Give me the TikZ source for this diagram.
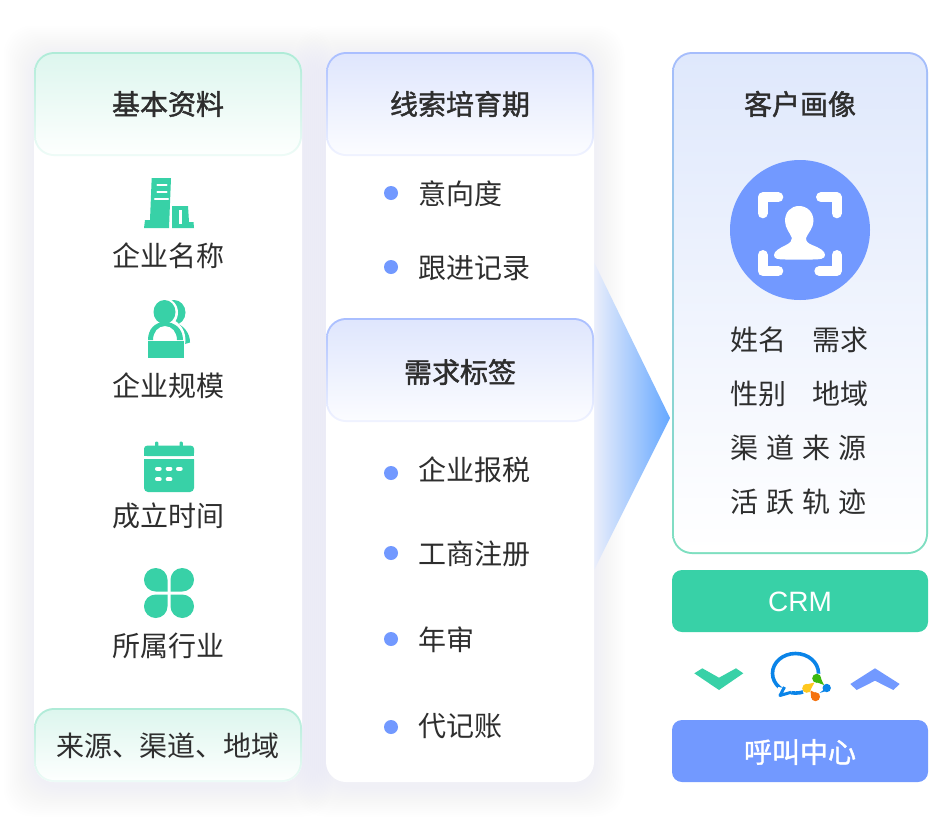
\documentclass[tikz,border=0pt]{standalone}
\usepackage{fontspec}
\setmainfont{Noto Sans CJK SC}
\newfontfamily\cjkm[FakeBold=1.5]{Noto Sans CJK SC}
\newfontfamily\latinf{Liberation Sans}
\definecolor{ink}{HTML}{2E2E2E}
\definecolor{teal}{HTML}{38D1A7}
\definecolor{blu}{HTML}{7299FF}
\definecolor{shadowc}{HTML}{E9EBF6}
\definecolor{wedgeL}{HTML}{EAEEFB}
\definecolor{wedgeR}{HTML}{66A8FF}
\definecolor{edgeG}{HTML}{AEEBD7}
\definecolor{edgeGb}{HTML}{EEFBF7}
\definecolor{fillG}{HTML}{DDF6EE}
\definecolor{fillGb}{HTML}{FDFFFE}
\definecolor{edgeB}{HTML}{A9BEFF}
\definecolor{edgeBb}{HTML}{F0F3FF}
\definecolor{fillB}{HTML}{DFE6FD}
\definecolor{fillBb}{HTML}{FBFCFF}
\definecolor{edgeR}{HTML}{A6BDFC}
\definecolor{edgeRb}{HTML}{7EDFC0}
\definecolor{fillR}{HTML}{DFE8FC}
\definecolor{bubbleblue}{HTML}{0A84E8}
\definecolor{logogreen}{HTML}{3DB80E}
\definecolor{logoorange}{HTML}{F5720F}
\definecolor{logoyellow}{HTML}{FFC81E}
\newcommand{\fsz}{\fontsize{28}{30}\selectfont}
\newcommand{\softshadow}[4]{%
  \foreach \e in {2,4,...,30}{
    \fill[shadowc,opacity=.03,rounded corners=28pt]
      ({#1-\e},{#2-\e+4}) rectangle ({#3+\e},{#4+\e+4});
  }}
\tikzset{
  x=1pt,y=-1pt,
  box/.style={inner sep=0pt,outer sep=0pt,rounded corners=20pt,minimum width=#1},
  label/.style={font=\fsz,text=ink,inner sep=0pt},
  title/.style={font=\fsz\cjkm,text=ink,inner sep=0pt},
  bullet/.style={circle,fill=blu,minimum size=14pt,inner sep=0pt,outer sep=0pt},
  listitem/.style={label,anchor=west},
  corner/.style={white,line width=10pt,line cap=round,line join=round},
}
\begin{document}
\begin{tikzpicture}
\useasboundingbox (0,0) rectangle (948,836);
\fill[white] (0,0) rectangle (948,836);
% soft shadows
\softshadow{34}{52}{302}{782}
\softshadow{326}{52}{594}{782}
% arrow wedge
\shade[left color=wedgeL,right color=wedgeR] (594,262) -- (670,418) -- (594,570) -- cycle;
% left column
\node[box=268pt,minimum height=730pt,fill=white] (leftcard) at (168,417) {};
\node[box=268pt,minimum height=104pt,top color=edgeG,bottom color=edgeGb] (lefthead) at (168,104) {};
\node[box=264pt,minimum height=100pt,rounded corners=18pt,top color=fillG,bottom color=fillGb] (leftheadin) at (168,104) {};
\node[title] (t1) at (168,104) {基本资料};
\node[box=268pt,minimum height=74pt,top color=edgeG,bottom color=edgeGb] (leftfoot) at (168,745) {};
\node[box=264pt,minimum height=70pt,rounded corners=18pt,top color=fillG,bottom color=fillGb] (leftfootin) at (168,745) {};
\node[label] (t6) at (168,746) {来源、渠道、地域};
\node[label] (t2) at (168,256) {企业名称};
\node[label] (t3) at (168,386) {企业规模};
\node[label] (t4) at (168,516) {成立时间};
\node[label] (t5) at (168,646) {所属行业};
% building icon
\fill[teal] (151.7,178) -- (171,178) -- (169,228) -- (144,228) -- (145,220) -- (150,220) -- cycle;
\fill[teal] (172,206) -- (188,206) -- (189,222) -- (193.5,222) -- (194,228) -- (172,228) -- cycle;
\fill[white] (179.4,210) rectangle (182.4,223.5);
\draw[white,line width=2.4pt,line cap=round] (157.5,185) -- (166.5,185) (157.5,192) -- (166.5,192) (155,199) -- (168,199);
% people icon
\fill[teal] (174,312.5) ellipse (11.5 and 12.5);
\fill[white] (164.5,312.5) ellipse (13.5 and 14.5);
\fill[teal] (172,321) .. controls (184,325) and (190,333) .. (190,342.5) -- (185,344) .. controls (185,335) and (181,326) .. (174,322) -- cycle;
\fill[white] (165,340) ellipse (20.5 and 22);
\fill[teal] (164.5,312) ellipse (11 and 12);
\fill[teal] (148,340) .. controls (148,329) and (155,322) .. (165,322) .. controls (175,322) and (183,329) .. (183,340) -- (177,340) .. controls (177,332) and (172,326) .. (165,326) .. controls (158,326) and (153,332) .. (153,340) -- cycle;
\fill[teal] (148,341) rectangle (184,358);
% calendar icon
\fill[teal,rounded corners=1.2pt] (155,441.5) rectangle (158.3,448);
\fill[teal,rounded corners=1.2pt] (179.5,441.5) rectangle (182.8,448);
\fill[teal,rounded corners=3pt] (144,445.7) rectangle (194,456);
\fill[teal] (144,452) rectangle (194,456);
\fill[teal,rounded corners=4pt] (144,470) -- (144,459.3) [sharp corners] -- (194,459.3) [rounded corners=4pt] -- (194,492) -- (144,492) -- cycle;
\fill[teal] (144,459.3) rectangle (194,465);
\draw[white,line width=4pt,line cap=round]
  (157,468.7) -- (159.7,468.7) (167.7,468.7) -- (170.4,468.7) (178,468.7) -- (180.7,468.7)
  (157,479.3) -- (159.7,479.3) (167.7,479.3) -- (170.4,479.3);
% clover icon
\fill[teal,rounded corners=11.7pt] (167.5,580) -- (167.5,568) -- (144,568) -- (144,591.5) [sharp corners] -- (167.5,591.5) -- cycle;
\fill[teal,rounded corners=11.7pt] (170.5,580) -- (170.5,568) -- (194,568) -- (194,591.5) [sharp corners] -- (170.5,591.5) -- cycle;
\fill[teal,rounded corners=11.7pt] (167.5,606) -- (167.5,618) -- (144,618) -- (144,594.5) [sharp corners] -- (167.5,594.5) -- cycle;
\fill[teal,rounded corners=11.7pt] (170.5,606) -- (170.5,618) -- (194,618) -- (194,594.5) [sharp corners] -- (170.5,594.5) -- cycle;
% middle column
\node[box=268pt,minimum height=730pt,fill=white] (midcard) at (460,417) {};
\node[box=268pt,minimum height=104pt,top color=edgeB,bottom color=edgeBb] (midhead) at (460,104) {};
\node[box=264pt,minimum height=100pt,rounded corners=18pt,top color=fillB,bottom color=fillBb] (midheadin) at (460,104) {};
\node[title] (m0) at (460,104) {线索培育期};
\node[box=268pt,minimum height=104pt,top color=edgeB,bottom color=edgeBb] (taghead) at (460,370) {};
\node[box=264pt,minimum height=100pt,rounded corners=18pt,top color=fillB,bottom color=fillBb] (tagheadin) at (460,370) {};
\node[title] (m3) at (460,372) {需求标签};
\foreach \n/\y/\by/\s in {a/194/193/意向度,b/268/267/跟进记录,c/470/473/企业报税,d/554/553/工商注册,e/640/639/年审,f/726/727/代记账}{
  \node[bullet] (dot\n) at (391,\by) {};
  \node[listitem] (item\n) at (418,\y) {\s};
}
% right column
\node[box=256pt,minimum height=502pt,top color=edgeR,bottom color=edgeRb] (portrait) at (800,303) {};
\node[box=252pt,minimum height=498pt,rounded corners=18pt,top color=fillR,bottom color=white] (portraitin) at (800,303) {};
\node[title] (r0) at (800,104) {客户画像};
\node[circle,fill=blu,minimum size=140pt,inner sep=0pt] (avatar) at (800,230) {};
\draw[corner] (778.3,197.3) -- (762.7,197.3) -- (762.7,213.3);
\draw[corner] (821,197.3) -- (836.7,197.3) -- (836.7,213.3);
\draw[corner] (762.7,255) -- (762.7,271) -- (778.3,271);
\draw[corner] (819.3,271) -- (836.7,271) -- (836.7,255);
\fill[white] (799,206) .. controls (807,206) and (813.5,212) .. (813.5,221) .. controls (813.5,228) and (808,233) .. (806,238) .. controls (806,242) and (808,243) .. (812,245) .. controls (820,248) and (825,251) .. (825,255) .. controls (825,259) and (820,259.5) .. (812,259.5) -- (786,259.5) .. controls (778,259.5) and (774,259) .. (774,255) .. controls (774,251) and (780,248) .. (786,245) .. controls (790,243) and (792,241) .. (792,238) .. controls (790,233) and (785,228) .. (785,221) .. controls (785,212) and (791,206) .. (799,206) -- cycle;
\node[label] (p1) at (758,340) {姓名};
\node[label] (p2) at (840,340) {需求};
\node[label] (p3) at (758.5,394) {性别};
\node[label] (p4) at (840,394) {地域};
\foreach \n/\x/\s in {a/744/渠,b/780/道,c/816/来,d/852/源}{\node[label] (q\n) at (\x,448) {\s};}
\foreach \n/\x/\s in {a/744/活,b/780/跃,c/816/轨,d/852/迹}{\node[label] (w\n) at (\x,502) {\s};}
\node[box=256pt,minimum height=62pt,rounded corners=10pt,fill=teal] (crm) at (800,601) {};
\node[text=white,font=\fsz\latinf,inner sep=0pt] (crmtext) at (800,602) {CRM};
\node[box=256pt,minimum height=62pt,rounded corners=10pt,fill=blu] (call) at (800,751) {};
\node[text=white,font=\fsz\cjkm,inner sep=0pt] (calltext) at (800,752) {呼叫中心};
% chevrons
\fill[teal] (694.3,673.3) -- (702.3,668.3) -- (719,677.7) -- (736,668.3) -- (743.3,673.3) -- (719,690) -- cycle;
\fill[blu] (850.3,684) -- (875,668.3) -- (899.7,684) -- (893.3,690) -- (875,680.7) -- (856.7,690) -- cycle;
% chat logo
\draw[bubbleblue,line width=3.6pt] (795.5,673.3) ellipse (23 and 19.8);
\fill[white] (778,687) -- (792,689) -- (790,697) -- (776,698) -- cycle;
\draw[bubbleblue,line width=3pt,line join=round] (784.5,687) -- (780,695.5) -- (791,692.3);
\fill[white] (817,688) circle (14.5);
\fill[logogreen] (816.7,678.3) circle (4.5);
\fill[logogreen] (813.5,681) -- (819.5,675.5) -- (824,685) -- cycle;
\fill[bubbleblue] (826.7,688) circle (4.2);
\fill[bubbleblue] (830,685) -- (824.5,691.5) -- (819.5,693) -- cycle;
\fill[logoorange] (815.5,696.7) circle (4.5);
\fill[logoorange] (811.2,698) -- (819.8,695) -- (810.5,690.5) -- cycle;
\fill[logoyellow] (806.7,688.3) circle (4.5);
\fill[logoyellow] (804,685) -- (809,692.5) -- (814.5,682.5) -- cycle;
\end{tikzpicture}
\end{document}
